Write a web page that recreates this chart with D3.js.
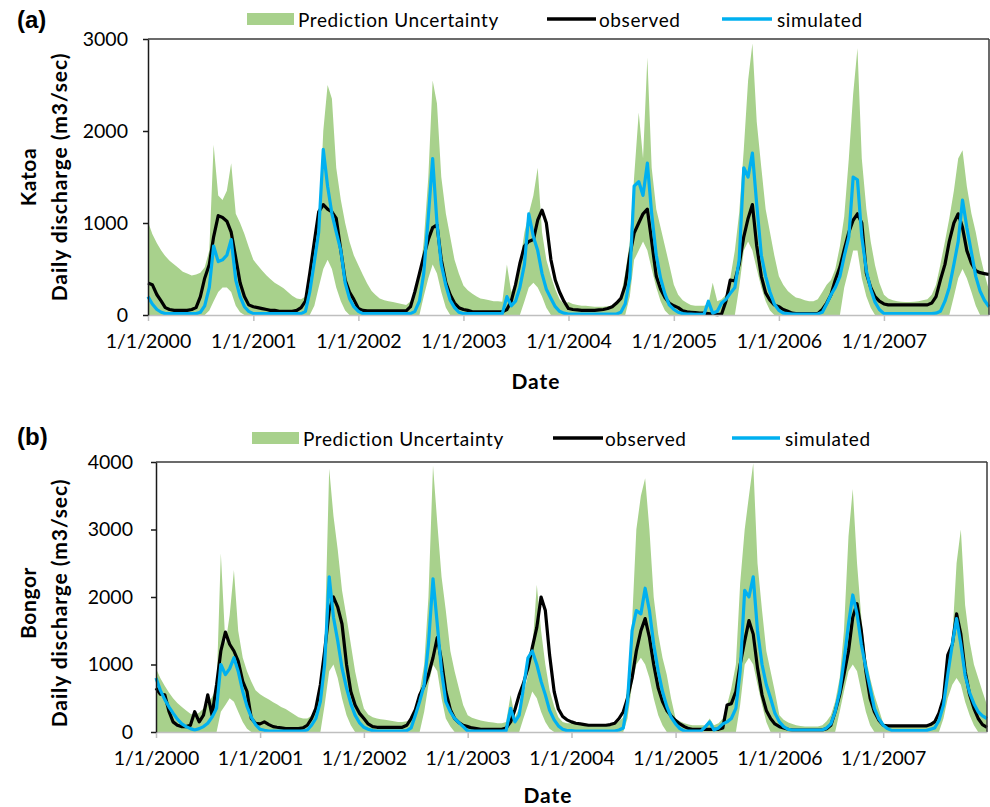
<!DOCTYPE html>
<html><head><meta charset="utf-8">
<script src="https://cdn.jsdelivr.net/npm/d3@7"></script>
<style>
body{margin:0;background:#fff}
svg{display:block}
text{font-family:Lato,"Open Sans",sans-serif;fill:#000}
</style>
</head><body>
<svg id="chart" width="990" height="807"></svg>
<script>
// ---------- tick labels ----------
const xTickLabels = ["1/1/2000","1/1/2001","1/1/2002","1/1/2003","1/1/2004","1/1/2005","1/1/2006","1/1/2007"];
const katoaYTicks = [0,1000,2000,3000];
const bongorYTicks = [0,1000,2000,3000,4000];
const legendLabels = ["Prediction Uncertainty","observed","simulated"];
const panelTags = ["(a)","(b)"];
const stations = ["Katoa","Bongor"];

// ---------- values: one every 1st and 16th of each month, 2000-01-01 .. 2008-01-01 ----------
const katoaObserved = [
 348,330,220,150,80,60,50,50,50,50,60,80,200,400,550,850,1080,1060,1020,900,620,350,200,110,
 90,80,70,60,50,50,40,40,40,40,50,80,150,450,800,1120,1200,1150,1120,1050,700,380,250,170,
 70,50,45,45,45,45,45,45,45,45,45,45,90,250,450,640,820,950,980,600,350,220,130,80,
 60,50,35,35,35,35,35,35,35,35,60,150,330,560,750,800,820,1030,1140,1000,600,380,250,150,
 70,60,55,50,50,50,50,55,60,70,90,130,180,320,650,890,1000,1100,1150,800,420,280,190,130,
 100,80,45,35,30,25,20,20,15,10,5,10,150,380,370,550,850,1050,1200,750,420,240,160,110,
 90,60,40,20,15,15,15,15,15,15,60,130,220,380,520,710,900,1030,1100,1000,450,300,200,150,
 120,110,110,110,110,110,110,110,110,110,110,130,200,380,550,800,1000,1100,950,700,560,480,460,450,
 440];
const katoaSimulated = [
 200,120,60,30,15,15,15,15,15,15,15,15,30,100,300,750,580,600,650,820,380,200,90,40,
 15,15,15,15,15,15,15,15,15,15,15,15,40,250,580,900,1800,1400,1100,900,700,350,180,90,
 40,15,15,15,15,15,15,15,15,15,15,15,15,40,150,450,1070,1700,1000,550,320,160,80,30,
 15,15,15,15,15,15,15,15,15,15,200,100,150,300,550,1100,850,700,450,280,180,90,40,20,
 10,10,10,10,10,10,10,10,10,10,10,10,30,120,400,1400,1450,1300,1650,1100,650,400,230,110,
 60,30,15,10,10,8,8,8,150,20,40,130,170,235,300,600,1600,1500,1760,1200,650,420,250,120,
 50,20,15,10,10,10,10,10,10,10,30,120,220,300,420,640,850,1500,1470,850,480,280,140,60,
 15,15,15,15,15,15,15,15,15,15,15,15,20,40,150,300,550,800,1250,950,680,420,260,160,
 90];
const katoaUpper = [
 1014,880,780,700,640,590,550,510,470,450,430,440,460,520,700,1850,1300,1250,1350,1650,1100,1000,880,740,
 600,540,480,430,390,350,320,290,250,210,180,170,200,350,600,900,2000,2500,2350,1600,1250,1000,800,650,
 540,440,340,260,220,180,160,150,140,130,120,110,150,250,400,800,1500,2550,2300,1500,1100,850,600,450,
 320,270,230,200,180,170,160,150,150,145,550,250,350,560,900,1100,1300,1600,900,600,420,280,170,120,
 140,120,110,100,100,95,90,90,90,95,100,110,200,450,800,1500,2200,1700,2800,1600,1150,950,750,550,
 330,220,160,130,110,100,100,100,120,350,150,170,220,400,700,1110,1800,2550,2950,2100,1600,1150,900,650,
 420,330,260,220,190,180,160,150,150,170,250,330,380,500,750,1070,1700,2400,2900,1700,1150,800,540,350,
 220,180,160,150,145,140,140,145,150,160,170,220,330,550,800,1050,1350,1700,1790,1400,1100,900,650,450,
 270];
const katoaLower = [
 0,0,0,0,0,0,0,0,0,0,0,0,0,0,50,150,250,300,300,250,100,30,0,0,
 0,0,0,0,0,0,0,0,0,0,0,0,0,0,100,300,500,600,500,300,150,50,0,0,
 0,0,0,0,0,0,0,0,0,0,0,0,0,0,0,200,400,550,450,250,80,0,0,0,
 0,0,0,0,0,0,0,0,0,0,0,0,0,0,150,300,350,300,200,80,0,0,0,0,
 0,0,0,0,0,0,0,0,0,0,0,0,0,0,200,600,700,800,700,500,300,150,50,0,
 0,0,0,0,0,0,0,0,0,0,0,0,0,0,0,300,700,800,700,500,300,150,50,0,
 0,0,0,0,0,0,0,0,0,0,0,0,0,0,0,300,500,700,700,400,200,80,0,0,
 0,0,0,0,0,0,0,0,0,0,0,0,0,0,0,0,200,400,500,400,250,100,0,0,
 0];

const bongorObserved = [
 650,560,550,300,150,100,80,80,100,300,150,250,550,250,700,1200,1480,1300,1200,1050,750,600,200,130,
 120,150,110,80,70,60,50,50,50,50,60,100,200,350,700,1200,1800,2000,1850,1600,1000,600,400,280,
 200,120,80,70,70,70,70,70,70,70,100,200,330,550,680,850,1100,1400,1050,600,330,200,140,100,
 80,60,50,40,40,40,40,40,40,60,150,330,550,720,950,1250,1550,2000,1800,1140,600,340,230,180,
 150,130,120,110,100,100,100,100,100,110,130,200,300,500,800,1200,1500,1680,1400,1000,650,450,320,240,
 170,120,80,50,40,40,40,40,40,40,40,60,400,420,600,1000,1350,1650,1450,950,550,320,200,120,
 80,60,40,30,30,30,30,30,30,30,30,50,100,300,550,850,1200,1700,1900,1500,900,500,300,180,
 100,90,90,90,90,90,90,90,90,90,90,110,150,280,500,1140,1300,1750,1450,900,550,350,200,110,
 70];
const bongorSimulated = [
 800,620,480,370,280,190,120,80,50,30,50,80,130,220,350,1000,850,940,1100,900,600,380,220,110,
 40,25,15,15,15,15,15,15,15,15,15,30,100,200,450,1000,2300,1700,1350,950,650,420,250,140,
 70,40,20,15,15,15,15,15,15,15,20,60,250,450,700,1300,2270,1600,900,450,300,200,140,80,
 15,15,15,15,15,15,15,15,15,20,350,150,250,650,1100,1200,1000,750,550,320,180,90,40,20,
 20,15,15,15,15,15,15,15,15,15,15,30,60,450,1500,1800,1750,2130,1800,1300,900,600,380,220,
 120,50,15,15,15,15,15,80,150,30,60,120,150,200,350,900,2100,2000,2300,1500,1000,700,500,280,
 150,80,40,30,30,30,30,30,30,30,30,60,120,300,600,1050,1600,2030,1750,1300,950,650,350,200,
 100,50,20,20,20,20,20,20,20,20,20,40,60,170,400,850,1300,1680,1300,840,580,420,300,240,
 200];
const bongorUpper = [
 940,800,680,580,500,430,370,320,270,250,290,350,420,520,650,2650,1300,1730,2400,1500,1100,900,750,620,
 560,520,480,440,410,370,340,300,260,220,200,200,240,300,650,1300,3900,3200,2700,2100,1700,1300,900,600,
 350,260,220,200,190,180,170,160,150,150,160,200,350,600,1000,2000,3950,3100,2300,1800,1200,900,650,400,
 250,210,190,170,160,150,140,130,130,150,550,220,350,550,850,1200,2180,1500,1000,620,380,220,150,130,
 130,120,110,100,100,100,100,100,100,100,120,160,220,700,1630,3000,3500,3760,3000,2000,1450,1100,850,500,
 200,160,130,110,100,100,100,100,200,100,130,200,400,650,1000,2200,3000,3500,3980,2500,1800,1200,900,600,
 250,180,140,120,100,90,80,80,80,80,100,160,250,450,800,1500,2900,3600,2500,1700,1100,800,550,350,
 130,110,100,100,100,100,100,100,100,100,100,130,180,300,600,1000,1400,2500,3000,1880,1340,1000,800,600,
 400];
const bongorLower = [
 0,0,0,0,0,0,0,0,0,0,0,0,0,0,0,300,400,500,450,300,150,50,0,0,
 0,0,0,0,0,0,0,0,0,0,0,0,0,0,0,400,900,1000,800,500,250,100,0,0,
 0,0,0,0,0,0,0,0,0,0,0,0,0,0,300,700,1000,900,500,200,80,0,0,0,
 0,0,0,0,0,0,0,0,0,0,0,0,0,200,400,600,500,300,150,50,0,0,0,0,
 0,0,0,0,0,0,0,0,0,0,0,0,0,200,700,1000,1100,1000,800,500,250,100,0,0,
 0,0,0,0,0,0,0,0,0,0,0,0,0,0,0,400,1000,1100,1000,700,400,150,0,0,
 0,0,0,0,0,0,0,0,0,0,0,0,0,0,300,600,900,1000,900,600,300,100,0,0,
 0,0,0,0,0,0,0,0,0,0,0,0,0,0,200,500,700,800,700,450,250,100,0,0,
 0];

// ---------- dates ----------
const dates = [];
for (let yr = 2000; yr < 2008; yr++) for (let m = 0; m < 12; m++) {
  dates.push(new Date(Date.UTC(yr, m, 1)));
  dates.push(new Date(Date.UTC(yr, m, 16)));
}
dates.push(new Date(Date.UTC(2008, 0, 1)));
const yearStarts = d3.range(2000, 2008).map(y => new Date(Date.UTC(y, 0, 1)));

// ---------- styles ----------
const GREEN = "#a8d18c", BLUE = "#00b0f0", BLACK = "#000000";

const svg = d3.select("#chart");

const layout = [
  {left:148,right:989,top:39,bottom:315,ymax:3000,yPad:15,tagY:28,labY:177,dateX:536,dateY:380,
   legY:19,sw:[247,294],obsL:[547,596],simL:[722,772],predT:298,obsT:599,simT:777},
  {left:156,right:987,top:462,bottom:732,ymax:4000,yPad:18,tagY:445,labY:603,dateX:548,dateY:794,
   legY:438,sw:[252,299],obsL:[553,603],simL:[732,780],predT:303,obsT:605,simT:785}
];
const series = [
  {obs:katoaObserved, sim:katoaSimulated, lo:katoaLower, hi:katoaUpper, yTicks:katoaYTicks},
  {obs:bongorObserved, sim:bongorSimulated, lo:bongorLower, hi:bongorUpper, yTicks:bongorYTicks}
];

series.forEach((s, k) => {
  const L = layout[k];
  const g = svg.append("g");
  const x = d3.scaleUtc().domain([Date.UTC(2000,0,1), Date.UTC(2008,0,1)]).range([L.left, L.right]);
  const y = d3.scaleLinear().domain([0, L.ymax]).range([L.bottom, L.top]);
  const rows = dates.map((d, i) => ({d, obs:s.obs[i], sim:s.sim[i], lo:s.lo[i], hi:s.hi[i]}));

  g.append("path").datum(rows)
    .attr("d", d3.area().x(r => x(r.d)).y0(r => y(r.lo)).y1(r => y(r.hi)))
    .attr("fill", GREEN);
  g.append("path").datum(rows)
    .attr("d", d3.line().x(r => x(r.d)).y(r => y(r.obs)))
    .attr("fill","none").attr("stroke",BLACK).attr("stroke-width",3.2).attr("stroke-linejoin","round");
  g.append("path").datum(rows)
    .attr("d", d3.line().x(r => x(r.d)).y(r => y(r.sim)))
    .attr("fill","none").attr("stroke",BLUE).attr("stroke-width",3.2).attr("stroke-linejoin","round");

  // frame (top + right)
  g.append("line").attr("x1",L.left).attr("x2",L.right).attr("y1",L.top).attr("y2",L.top)
    .attr("stroke","#3a3a3a").attr("stroke-width",1.5);
  g.append("line").attr("x1",L.right).attr("x2",L.right).attr("y1",L.top).attr("y2",L.bottom)
    .attr("stroke","#3a3a3a").attr("stroke-width",1.5);

  // x axis
  const xa = g.append("g").attr("transform",`translate(0,${L.bottom})`)
    .call(d3.axisBottom(x).tickValues(yearStarts).tickFormat((d,i)=>xTickLabels[i]).tickSize(6).tickPadding(13).tickSizeOuter(0));
  xa.select(".domain").attr("stroke","#bfbfbf").attr("stroke-width",1.5);
  xa.selectAll(".tick line").attr("stroke","#bfbfbf").attr("stroke-width",1.5);
  xa.selectAll("text").style("font-size","19.5px").style("font-family","Lato").attr("fill","#000");

  // y axis
  const ya = g.append("g").attr("transform",`translate(${L.left},0)`)
    .call(d3.axisLeft(y).tickValues(s.yTicks).tickFormat(d3.format("d")).tickSize(5).tickPadding(L.yPad).tickSizeOuter(0));
  ya.select(".domain").attr("stroke","#1a1a1a").attr("stroke-width",1.5);
  ya.selectAll(".tick line").attr("stroke","#1a1a1a").attr("stroke-width",1.5);
  ya.selectAll("text").style("font-size","19.5px").style("font-family","Lato").attr("fill","#000");

  // panel tag
  g.append("text").attr("x",17).attr("y",L.tagY).text(panelTags[k])
    .style("font-family","'Liberation Sans',Arial,sans-serif").style("font-weight","bold").style("font-size","24px");

  // y labels
  g.append("text").attr("transform",`translate(27,${L.labY}) rotate(-90)`)
    .attr("text-anchor","middle").attr("dominant-baseline","central")
    .style("font-weight","bold").style("font-size","21px").style("letter-spacing","0.6px").text(stations[k]);
  g.append("text").attr("transform",`translate(58,${L.labY}) rotate(-90)`)
    .attr("text-anchor","middle").attr("dominant-baseline","central")
    .style("font-weight","bold").style("font-size","21px").style("letter-spacing","0.9px").text("Daily discharge (m3/sec)");

  // x label
  g.append("text").attr("x",L.dateX).attr("y",L.dateY).attr("text-anchor","middle").attr("dominant-baseline","central")
    .style("font-weight","bold").style("font-size","21px").style("letter-spacing","1px").text("Date");

  // legend
  g.append("rect").attr("x",L.sw[0]).attr("y",L.legY-6).attr("width",L.sw[1]-L.sw[0]).attr("height",12).attr("fill",GREEN);
  g.append("text").attr("x",L.predT).attr("y",L.legY).attr("dominant-baseline","central")
    .style("font-size","19px").style("letter-spacing","0.6px").text(legendLabels[0]);
  g.append("line").attr("x1",L.obsL[0]).attr("x2",L.obsL[1]).attr("y1",L.legY).attr("y2",L.legY)
    .attr("stroke",BLACK).attr("stroke-width",3.5);
  g.append("text").attr("x",L.obsT).attr("y",L.legY).attr("dominant-baseline","central")
    .style("font-size","19px").style("letter-spacing","0.6px").text(legendLabels[1]);
  g.append("line").attr("x1",L.simL[0]).attr("x2",L.simL[1]).attr("y1",L.legY).attr("y2",L.legY)
    .attr("stroke",BLUE).attr("stroke-width",3.5);
  g.append("text").attr("x",L.simT).attr("y",L.legY).attr("dominant-baseline","central")
    .style("font-size","19px").style("letter-spacing","0.6px").text(legendLabels[2]);
});
</script>
</body></html>
